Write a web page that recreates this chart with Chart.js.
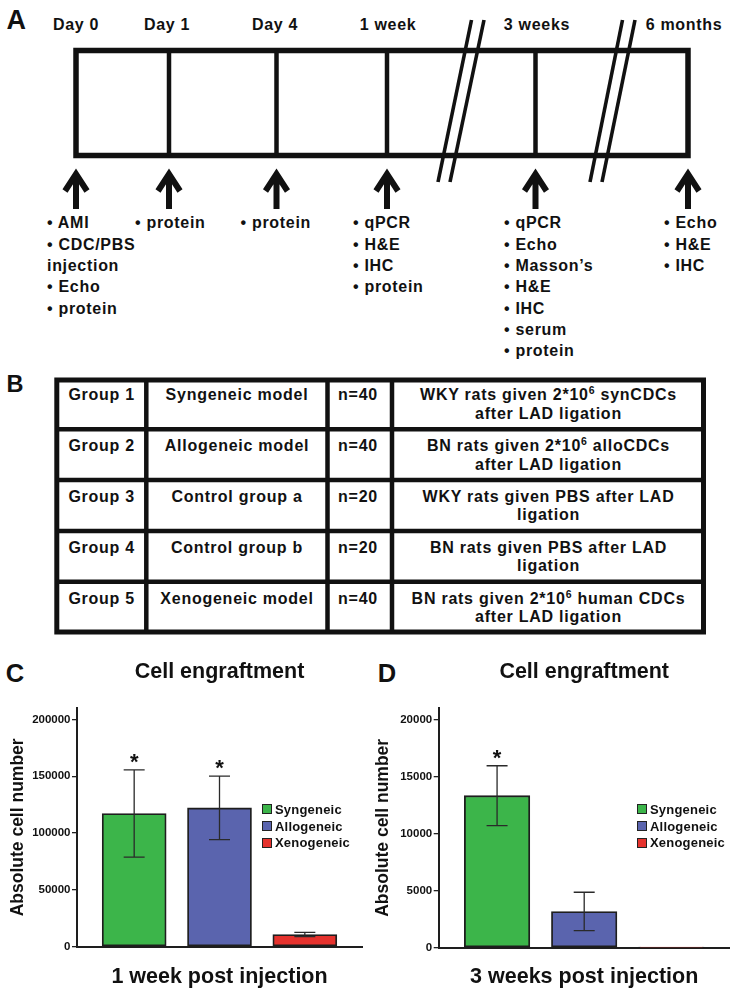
<!DOCTYPE html>
<html>
<head>
<meta charset="utf-8">
<title>Cell engraftment</title>
<script src="https://cdn.jsdelivr.net/npm/chart.js@4.4.1/dist/chart.umd.min.js"></script>
<style>
  html, body { margin: 0; padding: 0; background: #fff; }
  #page { position: relative; width: 736px; height: 995px; overflow: hidden; }
  #diagram { position: absolute; left: 0; top: 0; }
  canvas { position: absolute; top: 640px; }
  #chartC { left: 0; }
  #chartD { left: 368px; }
  .legend { position: absolute; top: 801px; font-family: "Liberation Sans", Arial, sans-serif; font-weight: bold; font-size: 13px; letter-spacing: 0.2px; color: #111; }
  .legend div { display: flex; align-items: center; height: 16.7px; white-space: nowrap; }
  .legend .box { display: inline-block; width: 10px; height: 10px; box-sizing: border-box; border: 1px solid #222; margin-right: 3px; }
  #legendC { left: 262px; }
  #legendD { left: 637px; }
</style>
</head>
<body>
<div id="page">
  <svg id="diagram" width="736" height="995" xmlns="http://www.w3.org/2000/svg"></svg>
  <canvas id="chartC" width="368" height="355"></canvas>
  <canvas id="chartD" width="368" height="355"></canvas>
  <div id="legendC" class="legend"></div>
  <div id="legendD" class="legend"></div>
</div>
<script>
// ----------------- Data -----------------

const cellTypes = ['Syngeneic', 'Allogeneic', 'Xenogeneic'];

const week1Cells = [117200, 122100, 10700];
const week1Errors = [38450, 27900, 1900];
const week1Marks = ['*', '*', ''];
const week1Ticks = [0, 50000, 100000, 150000, 200000];

const week3Cells = [13320, 3175, 50];
const week3Errors = [2620, 1685, 0];
const week3Marks = ['*', '', ''];
const week3Ticks = [0, 5000, 10000, 15000, 20000];

const timePoints = ['Day 0', 'Day 1', 'Day 4', '1 week', '3 weeks', '6 months'];
const timeNotes = [
  ['• AMI', '• CDC/PBS', 'injection', '• Echo', '• protein'],
  ['• protein'],
  ['• protein'],
  ['• qPCR', '• H&E', '• IHC', '• protein'],
  ['• qPCR', '• Echo', '• Masson’s', '• H&E', '• IHC', '• serum', '• protein'],
  ['• Echo', '• H&E', '• IHC']
];

const groupNames = ['Group 1', 'Group 2', 'Group 3', 'Group 4', 'Group 5'];
const groupModels = ['Syngeneic model', 'Allogeneic model', 'Control group a', 'Control group b', 'Xenogeneic model'];
const groupSizes = ['n=40', 'n=40', 'n=20', 'n=20', 'n=40'];
const groupTreatments = [
  ['WKY rats given 2*10^6 synCDCs', 'after LAD ligation'],
  ['BN rats given 2*10^6 alloCDCs', 'after LAD ligation'],
  ['WKY rats given PBS after LAD', 'ligation'],
  ['BN rats given PBS after LAD', 'ligation'],
  ['BN rats given 2*10^6 human CDCs', 'after LAD ligation']
];

// ----------------- Layout / style -----------------

const FONT = '"Liberation Sans", Arial, Helvetica, sans-serif';
const INK = '#111';
const cellColors = ['#3cb54a', '#5a64ae', '#e5322d'];

const arrowX = [76, 169, 276.5, 387, 535.5, 688];
const timeLabelX = [76, 167, 275, 388, 537, 684];
const noteX = [47, 135, 240.5, 353, 504, 664];
const dividerX = [169, 276.5, 387, 535.5];
const breakLines = [[471.5, 438], [484, 450], [622.5, 590], [635, 602]];

const tableColX = [146.3, 327.5, 392];
const tableRowY = [429.3, 480, 531, 581.7];
const tableTextX = [101.7, 237, 358, 548.5];

// ----------------- Panels A and B (SVG) -----------------

function drawDiagram() {
  const svg = document.getElementById('diagram');
  svg.setAttribute('font-family', FONT);
  svg.setAttribute('font-weight', 'bold');
  svg.setAttribute('fill', INK);

  const add = (tag, attrs, parent = svg) => {
    const el = document.createElementNS('http://www.w3.org/2000/svg', tag);
    Object.entries(attrs).forEach(([k, v]) => el.setAttribute(k, v));
    parent.appendChild(el);
    return el;
  };
  const text = (str, attrs) => {
    const t = add('text', attrs);
    t.textContent = str;
    return t;
  };

  // letras de panel
  text('A', { x: 6.5, y: 29.3, 'font-size': 27 });
  text('B', { x: 6.6, y: 391.7, 'font-size': 23.5 });
  text('C', { x: 5.7, y: 681.7, 'font-size': 25.5 });
  text('D', { x: 377.7, y: 681.7, 'font-size': 25.5 });

  // timeline
  add('rect', { x: 76, y: 50.5, width: 612, height: 105, fill: 'none', stroke: INK, 'stroke-width': 5.5 });
  dividerX.forEach(x => {
    add('line', { x1: x, y1: 50.5, x2: x, y2: 155.5, stroke: INK, 'stroke-width': 4.5 });
  });
  breakLines.forEach(([top, bottom]) => {
    add('line', { x1: top, y1: 20, x2: bottom, y2: 182, stroke: INK, 'stroke-width': 3.6 });
  });

  timePoints.forEach((label, i) => {
    text(label, { x: timeLabelX[i], y: 29.8, 'font-size': 16, 'letter-spacing': 0.7, 'text-anchor': 'middle' });

    const x = arrowX[i];
    add('path', {
      d: `M${x - 11},191 L${x},174 L${x + 11},191 M${x},174 L${x},209`,
      fill: 'none', stroke: INK, 'stroke-width': 6, 'stroke-linejoin': 'miter', 'stroke-miterlimit': 10
    });

    timeNotes[i].forEach((line, j) => {
      text(line, { x: noteX[i], y: 228.4 + j * 21.33, 'font-size': 16, 'letter-spacing': 0.7 });
    });
  });

  // tabla de grupos
  add('rect', { x: 56.8, y: 380, width: 646.7, height: 252, fill: 'none', stroke: INK, 'stroke-width': 5 });
  tableRowY.forEach(y => {
    add('line', { x1: 56.8, y1: y, x2: 703.5, y2: y, stroke: INK, 'stroke-width': 4.5 });
  });
  tableColX.forEach(x => {
    add('line', { x1: x, y1: 380, x2: x, y2: 632, stroke: INK, 'stroke-width': 4.5 });
  });

  groupNames.forEach((name, r) => {
    const base = 400.4 + r * 50.8;
    const cells = [[name], [groupModels[r]], [groupSizes[r]], groupTreatments[r]];
    cells.forEach((lines, c) => {
      lines.forEach((line, k) => {
        const t = add('text', {
          x: tableTextX[c], y: base + k * 18.3, 'font-size': 16,
          'letter-spacing': 0.75, 'text-anchor': 'middle'
        });
        // 10^6 -> superíndice
        line.split(/\^(\d+)/).forEach((part, p) => {
          if (!part) return;
          const attrs = p % 2 ? { dy: -6, 'font-size': 10.5 } : (p > 0 ? { dy: 6 } : {});
          add('tspan', attrs, t).textContent = part;
        });
      });
    });
  });
}

// ----------------- Error bars plugin -----------------

const errorBarsPlugin = {
  id: 'errorBars',
  afterDatasetsDraw(chart, args, opts) {
    const { ctx } = chart;
    const yScale = chart.scales.y;
    ctx.save();
    chart.data.datasets.forEach((ds, i) => {
      const bar = chart.getDatasetMeta(i).data[0];
      const value = ds.data[0].y;
      const err = opts.errors[i] || 0;
      const top = yScale.getPixelForValue(value + err);
      const bottom = yScale.getPixelForValue(value - err);

      if (err) {
        ctx.strokeStyle = '#2a2a2a';
        ctx.lineWidth = 1.3;
        ctx.beginPath();
        ctx.moveTo(bar.x, top);
        ctx.lineTo(bar.x, bottom);
        ctx.moveTo(bar.x - 10.5, top);
        ctx.lineTo(bar.x + 10.5, top);
        ctx.moveTo(bar.x - 10.5, bottom);
        ctx.lineTo(bar.x + 10.5, bottom);
        ctx.stroke();
      }

      if (opts.marks[i]) {
        ctx.fillStyle = INK;
        ctx.font = `bold 22px ${FONT}`;
        ctx.textAlign = 'center';
        ctx.textBaseline = 'alphabetic';
        ctx.fillText(opts.marks[i], bar.x, top - 1);
      }
    });
    ctx.restore();
  }
};

// ----------------- Charts C and D -----------------

function buildLegend(chart, containerId) {
  const container = document.getElementById(containerId);
  chart.data.datasets.forEach(ds => {
    const row = document.createElement('div');
    const swatch = document.createElement('span');
    swatch.className = 'box';
    swatch.style.background = ds.backgroundColor;
    const label = document.createElement('span');
    label.textContent = ds.label;
    row.append(swatch, label);
    container.appendChild(row);
  });
}

function buildEngraftmentChart(canvasId, legendId, values, errors, marks, ticks, yMax, xTitle, fit) {
  const canvas = document.getElementById(canvasId);
  if (!canvas) return null;

  const datasets = cellTypes.map((name, i) => ({
    label: name,
    data: [{ x: i + 1, y: values[i] }],
    backgroundColor: cellColors[i],
    borderColor: '#1e1e1e',
    borderWidth: 1.8,
    borderSkipped: false,
    grouped: false,
    barPercentage: 1,
    categoryPercentage: 1,
    maxBarThickness: fit.barWidth
  }));

  const chart = new Chart(canvas.getContext('2d'), {
    type: 'bar',
    data: { datasets },
    options: {
      responsive: false,
      animation: false,
      layout: { padding: { right: fit.padRight } },
      plugins: {
        legend: { display: false },
        tooltip: { enabled: false },
        title: {
          display: true,
          text: 'Cell engraftment',
          fullSize: false,
          color: INK,
          font: { family: FONT, size: 21.5, weight: 'bold' },
          padding: { top: 19.5, bottom: 22.7 }
        },
        errorBars: { errors, marks }
      },
      scales: {
        x: {
          type: 'linear',
          min: 0.33,
          max: 3.67,
          offset: false,
          afterBuildTicks: s => { s.ticks = cellTypes.map((_, i) => ({ value: i + 1 })); },
          afterFit: s => { s.height = fit.xHeight; },
          ticks: { display: false },
          grid: { display: false },
          border: { display: true, color: '#1e1e1e', width: 2 },
          title: {
            display: true,
            text: xTitle,
            color: INK,
            font: { family: FONT, size: 21.5, weight: 'bold' },
            padding: { top: 0, bottom: 4.6 }
          }
        },
        y: {
          min: 0,
          max: yMax,
          afterBuildTicks: s => { s.ticks = ticks.map(v => ({ value: v })); },
          afterFit: s => { s.width = fit.yWidth; },
          ticks: {
            color: INK,
            padding: 1.5,
            font: { family: FONT, size: 11.5, weight: 'bold' },
            callback: v => String(v)
          },
          grid: { drawOnChartArea: false, drawTicks: true, tickLength: 5, color: '#222', lineWidth: 1.3 },
          border: { color: '#1e1e1e', width: 2 },
          title: {
            display: true,
            text: 'Absolute cell number',
            color: INK,
            font: { family: FONT, size: 17.5, weight: 'bold' },
            padding: { top: fit.yTitlePad, bottom: 0 }
          }
        }
      }
    },
    plugins: [errorBarsPlugin]
  });

  buildLegend(chart, legendId);
  return chart;
}

// ----------------- Init -----------------

function init() {
  drawDiagram();
  buildEngraftmentChart('chartC', 'legendC', week1Cells, week1Errors, week1Marks, week1Ticks, 210000,
    '1 week post injection', { yWidth: 77, padRight: 6, xHeight: 48.3, yTitlePad: 7.5, barWidth: 64 });
  buildEngraftmentChart('chartD', 'legendD', week3Cells, week3Errors, week3Marks, week3Ticks, 21000,
    '3 weeks post injection', { yWidth: 70.7, padRight: 6.3, xHeight: 47.3, yTitlePad: 5, barWidth: 65.5 });
}

document.addEventListener('DOMContentLoaded', init);
</script>
</body>
</html>
